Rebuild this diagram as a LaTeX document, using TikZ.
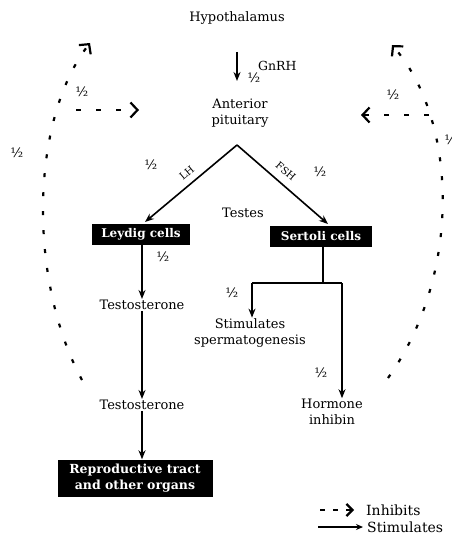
\documentclass[tikz,border=0pt]{standalone}
\usepackage{fontspec}
\setmainfont{DejaVu Serif}
\usetikzlibrary{arrows.meta}
\begin{document}
\begin{tikzpicture}[x=1pt,y=-1pt,
 txt/.style={font=\fontsize{13}{15.5}\selectfont, align=center, inner sep=1pt},
 blk/.style={fill=black, text=white, font=\bfseries\fontsize{12}{14}\selectfont, inner sep=2pt, align=center},
 half/.style={font=\fontsize{13}{13}\selectfont, inner sep=0pt},
 lbl/.style={font=\fontsize{10}{12}\selectfont, inner sep=0.5pt},
 leg/.style={font=\fontsize{12.5}{14}\selectfont, inner sep=1pt},
 stim/.style={line width=1.6pt, -{Stealth[length=9pt,width=7pt]}},
 inh/.style={line width=2.2pt, dash pattern=on 4pt off 15pt, -{Straight Barb[length=7pt,width=15pt,line width=2.2pt]}},
 inhleg/.style={line width=2.2pt, dash pattern=on 5pt off 8pt, -{Straight Barb[length=6pt,width=12pt,line width=2.2pt]}},
]
\useasboundingbox (0,0) rectangle (451,537);
\clip (0,0) rectangle (451,537);

% main nodes
\node[txt] (hyp) at (237,18) {Hypothalamus};
\node[txt] (ant) at (240,113) {Anterior\\pituitary};
\coordinate (apex) at (237,145);
\node[txt] (testes) at (243,213) {Testes};
\node[blk, minimum width=98pt, minimum height=21pt] (leydig) at (141,234) {Leydig cells};
\node[blk, minimum width=102pt, minimum height=21pt] (sertoli) at (321,236) {Sertoli cells};
\node[txt] (t1) at (142,305) {Testosterone};
\node[txt] (t2) at (142,405) {Testosterone};
\node[blk, minimum width=155pt, minimum height=37pt, font=\bfseries\fontsize{12.5}{16}\selectfont] (repro) at (135,478) {Reproductive tract\\and other organs};
\node[txt] (sperm) at (250,333) {Stimulates\\spermatogenesis};
\node[txt] (inhib) at (332,412) {Hormone\\inhibin};

% stimulatory arrows
\draw[stim] (237,52) -- (237,81) coordinate (gn);
\node[leg, anchor=west] (gnrh) at (257,66) {GnRH};
\draw[stim] (apex) -- node[lbl, sloped, above=6pt, pos=0.47] (lh) {LH} (145,222);
\draw[stim] (apex) -- node[lbl, sloped, above=7pt, pos=0.45] (fsh) {FSH} (328,224);
\draw[stim] (leydig.south -| 142,0) -- (t1.north);
\draw[stim] (t1.south) -- (t2.north);
\draw[stim] (t2.south) -- (repro.north -| 142,0);
\coordinate (sbr) at (323,283);
\draw[line width=1.6pt] (sertoli.south -| sbr) -- (sbr);
\draw[line width=1.6pt] (252,283) -- (342,283);
\draw[stim] (252,283) -- (sperm.north -| 252,0);
\draw[stim] (342,283) -- (inhib.north -| 342,0);

% halves
\node[half] (h1) at (254,78) {½};
\node[half] (h2) at (82,92) {½};
\node[half] (h3) at (17,153) {½};
\node[half] (h4) at (151,165) {½};
\node[half] (h5) at (320,172) {½};
\node[half] (h6) at (163,257) {½};
\node[half] (h7) at (232,293) {½};
\node[half] (h8) at (321,373) {½};
\node[half] (h9) at (393,95) {½};
\node[half] (h10) at (451,140) {½};

% inhibitory feedback
\coordinate (lb) at (82,380);
\coordinate (lt) at (90,43);
\draw[inh] (lb) .. controls (28,280) and (30,120) .. (lt);
\coordinate (rb) at (388,378);
\coordinate (rt) at (392,45);
\draw[inh] (rb) .. controls (462,275) and (458,120) .. (rt);
\coordinate (lh0) at (76,110);
\coordinate (lh1) at (139,110);
\draw[inh, dash pattern=on 5pt off 15pt] (lh0) -- (lh1);
\coordinate (rh0) at (429,115);
\coordinate (rh1) at (361,115);
\draw[inh, dash pattern=on 5pt off 15pt] (rh0) -- (rh1);

% legend
\coordinate (li0) at (320,510);
\coordinate (li1) at (354,510);
\draw[inhleg] (li0) -- (li1);
\node[leg, anchor=west, font=\fontsize{14}{16}\selectfont] (linh) at (365,510) {Inhibits};
\coordinate (ls0) at (318,527);
\coordinate (ls1) at (363,527);
\draw[line width=1.4pt, -{Stealth[length=7pt,width=6pt]}] (ls0) -- (ls1);
\node[leg, anchor=west, font=\fontsize{14}{16}\selectfont] (lstim) at (366,527) {Stimulates};
\end{tikzpicture}
\end{document}
